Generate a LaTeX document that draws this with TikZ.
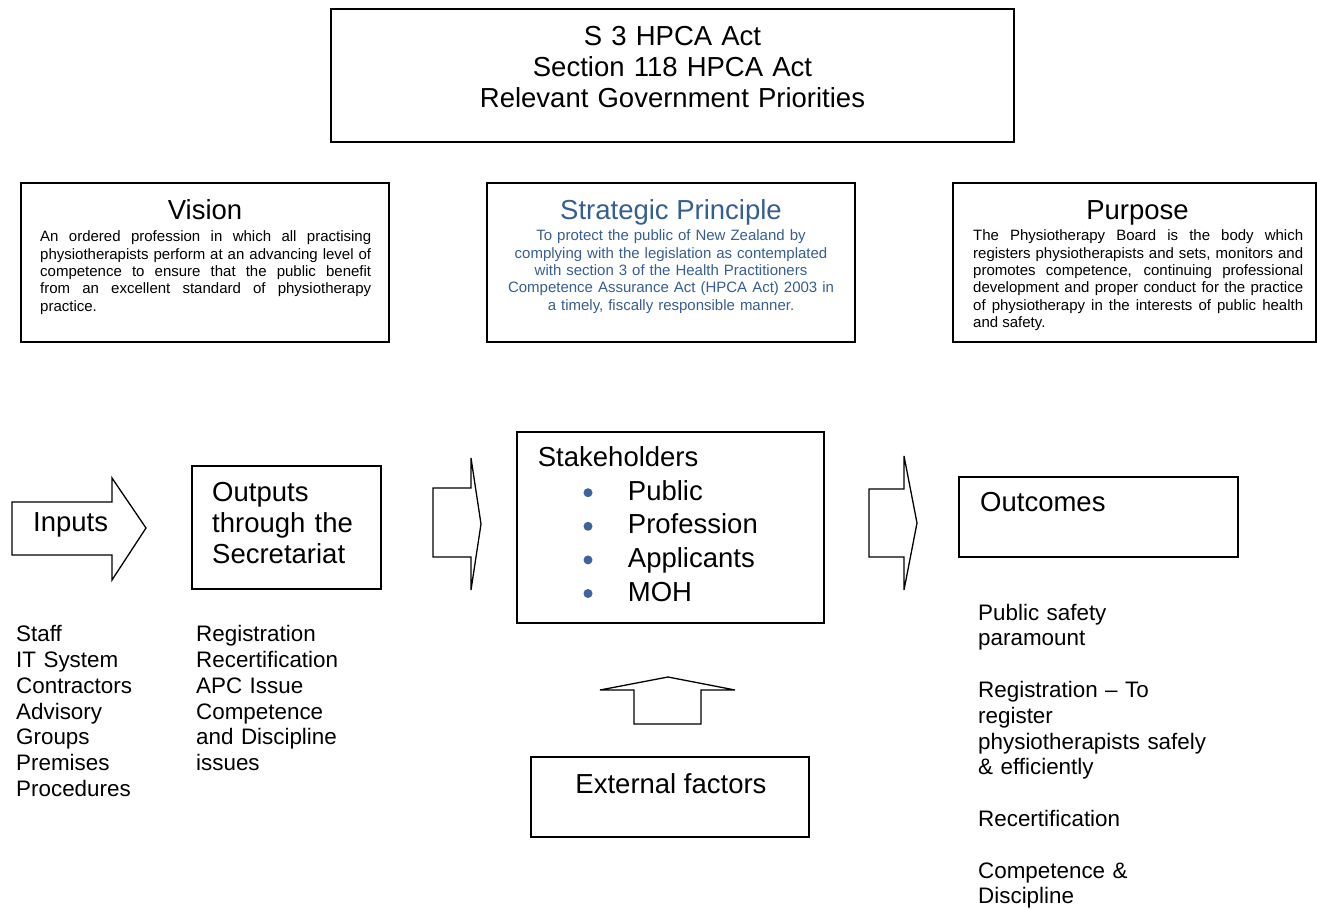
\documentclass[tikz,border=0pt]{standalone}
\usepackage{fontspec}
\setmainfont{Liberation Sans}
\definecolor{stratblue}{RGB}{54,95,145}
\definecolor{bulletblue}{RGB}{60,100,158}
\begin{document}
\begin{tikzpicture}[x=1pt,y=-1pt,
  box/.style={draw, line width=1.3pt, inner sep=0pt, fill=white},
  big/.style={font=\fontsize{27.5}{31}\selectfont, inner sep=0pt},
  small/.style={font=\fontsize{15}{17.3}\selectfont, inner sep=0pt},
  list/.style={font=\fontsize{22.4}{25.8}\selectfont, inner sep=0pt, text width=300pt, align=left, anchor=base west},
  blockarrow/.style={draw, line width=1.3pt, fill=white, line join=miter}]
\useasboundingbox (0,0) rectangle (1317,909);

% Top box
\node[box, minimum width=683pt, minimum height=133pt] (top) at (672.5,75.5) {};
\node[big, anchor=base, text width=683pt, align=center] (toptext) at (672.5,46)
  {S 3 HPCA Act\\Section 118 HPCA Act\\Relevant Government Priorities};

% Vision
\node[box, minimum width=368pt, minimum height=159pt] (vision) at (205,262.5) {};
\node[big, anchor=base] (visiont) at (205,219.5) {Vision};
\node[small, anchor=base west, text width=331pt, align=justify] (visionb) at (40,242)
  {An ordered profession in which all practising\linebreak physiotherapists perform at an advancing level of\linebreak competence to ensure that the public benefit\linebreak from an excellent standard of physiotherapy\linebreak practice.};

% Strategic Principle
\node[box, minimum width=368pt, minimum height=159pt] (strat) at (671,262.5) {};
\node[big, anchor=base, text=stratblue] (stratt) at (671,219.5) {Strategic Principle};
\node[small, anchor=base, text width=340pt, align=center, text=stratblue] (stratb) at (671,241)
  {To protect the public of New Zealand by\\complying with the legislation as contemplated\\with section 3 of the Health Practitioners\\Competence Assurance Act (HPCA Act) 2003 in\\a timely, fiscally responsible manner.};

% Purpose
\node[box, minimum width=363pt, minimum height=159pt] (purpose) at (1134.5,262.5) {};
\node[big, anchor=base] (purposet) at (1137.5,219.5) {Purpose};
\node[small, anchor=base west, text width=330pt, align=justify] (purposeb) at (973,241)
  {The Physiotherapy Board is the body which\linebreak registers physiotherapists and sets, monitors and\linebreak promotes competence, continuing professional\linebreak development and proper conduct for the practice\linebreak of physiotherapy in the interests of public health\linebreak and safety.};

% Inputs arrow
\draw[blockarrow] (12,502) -- (112,502) -- (112,478) -- (146,528) -- (112,580) -- (112,555) -- (12,555) -- cycle;
\node[big, anchor=base west] (inputs) at (33,531.7) {Inputs};

% Outputs
\node[box, minimum width=189pt, minimum height=123pt] (outputs) at (286.5,527.5) {};
\node[big, anchor=base west, text width=170pt, align=left] (outputst) at (212,501.7)
  {Outputs\\through the\\Secretariat};

% Arrow to stakeholders
\draw[blockarrow] (433,488) -- (471,488) -- (471,458) -- (481,524) -- (471,590) -- (471,557) -- (433,557) -- cycle;

% Stakeholders
\node[box, minimum width=307pt, minimum height=191pt] (stake) at (670.5,527.5) {};
\node[big, anchor=base west] (staket) at (537.7,466.7) {Stakeholders};
\node[anchor=base west, inner sep=0pt, font=\fontsize{27.5}{33.7}\selectfont, text width=180pt, align=left] (stakel) at (627.7,500)
  {Public\\Profession\\Applicants\\MOH};
\foreach \i in {0,1,2,3} {
  \fill[bulletblue] (588,492.7+33.6*\i) circle (4.5);
}

% Arrow to outcomes
\draw[blockarrow] (869,489) -- (904,489) -- (904,456) -- (917,523) -- (904,590) -- (904,557) -- (869,557) -- cycle;

% Outcomes
\node[box, minimum width=279pt, minimum height=80pt] (outcomes) at (1098.5,517) {};
\node[big, anchor=base west] (outcomest) at (980,511.7) {Outcomes};

% Up arrow
\draw[blockarrow] (634,724) -- (634,690) -- (600,690) -- (668,677) -- (735,690) -- (701,690) -- (701,724) -- cycle;

% External factors
\node[box, minimum width=278pt, minimum height=80pt] (external) at (670,797) {};
\node[big, anchor=base] (externalt) at (671,793) {External factors};

% Lists
\node[list] (inlist) at (16,641.7) {Staff\\IT System\\Contractors\\Advisory\\Groups\\Premises\\Procedures};
\node[list] (outlist) at (196,641.7) {Registration\\Recertification\\APC Issue\\Competence\\and Discipline\\issues};
\node[list] (outclist) at (978,620) {Public safety\\paramount\\[25.8pt]Registration -- To\\register\\physiotherapists safely\\\& efficiently\\[25.8pt]Recertification\\[25.8pt]Competence \&\\Discipline};
\end{tikzpicture}
\end{document}
